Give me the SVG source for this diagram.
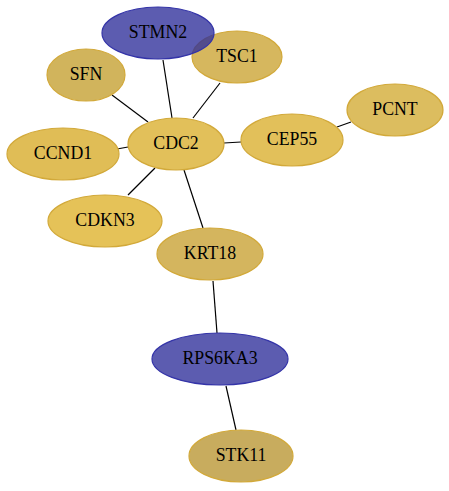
<svg xmlns="http://www.w3.org/2000/svg" width="449" height="491" viewBox="0 0 449 491">
<style>
.e{stroke:#000;stroke-width:1.2;fill:none}
.g{stroke:#d2a93a;stroke-width:1.2}
.b{fill:#2e2e9a;fill-opacity:0.78;stroke:#3434a8;stroke-width:1.2}
text{font-family:"Liberation Serif","Times New Roman",serif;font-size:17.8px;text-anchor:middle;dominant-baseline:central;fill:#000}
</style>
<rect width="449" height="491" fill="#fff"/>
<g id="edges">
<line class="e" x1="163" y1="60" x2="172" y2="118"/>
<line class="e" x1="220" y1="83" x2="193" y2="118"/>
<line class="e" x1="112" y1="95" x2="148" y2="122"/>
<line class="e" x1="117" y1="149" x2="128" y2="147"/>
<line class="e" x1="224" y1="143" x2="241" y2="142"/>
<line class="e" x1="337" y1="127" x2="351" y2="122"/>
<line class="e" x1="155" y1="168" x2="128" y2="195"/>
<line class="e" x1="184" y1="170" x2="203" y2="228"/>
<line class="e" x1="213" y1="281" x2="217" y2="333"/>
<line class="e" x1="226" y1="386" x2="236" y2="430"/>
</g>
<g id="TSC1"><ellipse class="g" cx="237" cy="57" rx="45" ry="26" fill="#d6b75e"/><text x="237" y="56">TSC1</text></g>
<g id="STMN2"><ellipse class="b" cx="158" cy="33" rx="56" ry="26"/><text x="158" y="32">STMN2</text></g>
<g id="SFN"><ellipse class="g" cx="86" cy="75" rx="39" ry="26" fill="#d1b45c"/><text x="86" y="74">SFN</text></g>
<g id="PCNT"><ellipse class="g" cx="395" cy="110" rx="48" ry="26" fill="#dcbd5f"/><text x="395" y="109">PCNT</text></g>
<g id="CDC2"><ellipse class="g" cx="176" cy="144" rx="48" ry="26" fill="#e2c05a"/><text x="176" y="143">CDC2</text></g>
<g id="CEP55"><ellipse class="g" cx="292" cy="140" rx="51" ry="26" fill="#e2c05a"/><text x="292" y="139">CEP55</text></g>
<g id="CCND1"><ellipse class="g" cx="63" cy="154" rx="56" ry="26" fill="#e0bd56"/><text x="63" y="153">CCND1</text></g>
<g id="CDKN3"><ellipse class="g" cx="105" cy="221" rx="57" ry="26" fill="#e5c258"/><text x="105" y="220">CDKN3</text></g>
<g id="KRT18"><ellipse class="g" cx="210" cy="254" rx="53" ry="26" fill="#d4b55e"/><text x="210" y="253">KRT18</text></g>
<g id="RPS6KA3"><ellipse class="b" cx="220" cy="359" rx="68" ry="26"/><text x="220" y="358">RPS6KA3</text></g>
<g id="STK11"><ellipse class="g" cx="241" cy="456" rx="52" ry="26" fill="#c8ac5e"/><text x="241" y="455">STK11</text></g>
</svg>
